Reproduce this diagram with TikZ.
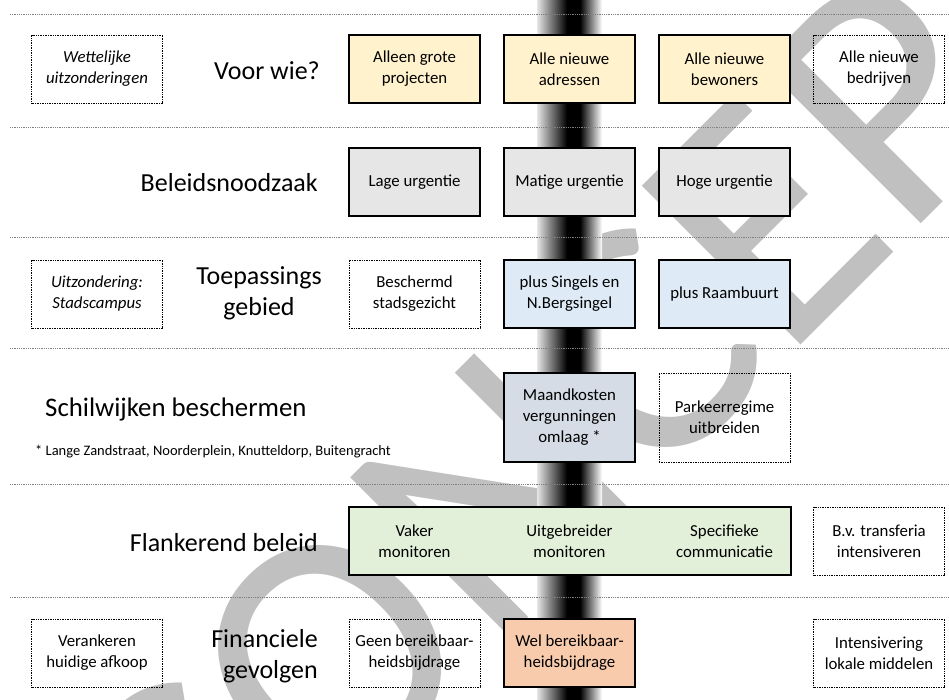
\documentclass[tikz,border=0pt]{standalone}
\usepackage{fontspec}
\setmainfont{Carlito}
\definecolor{yel}{HTML}{FFF2CC}
\definecolor{gry}{HTML}{E6E6E6}
\definecolor{blu}{HTML}{DEEBF7}
\definecolor{slate}{HTML}{D6DCE5}
\definecolor{grn}{HTML}{E2F0D9}
\definecolor{org}{HTML}{F8CBAD}
\definecolor{wm}{HTML}{C0C0C0}
\tikzset{
  boxtext/.style={align=center, font=\fontsize{16.8}{21}\selectfont, inner sep=2pt, minimum width=131pt, minimum height=68pt},
  solidbox/.style={boxtext, draw=black, line width=1.5pt},
  dotbox/.style={boxtext, draw=black, line width=0.7pt, densely dotted},
  biglabel/.style={font=\fontsize{26}{31}\selectfont, inner sep=0pt},
  sepline/.style={draw=gray, line width=0.8pt, densely dotted},
}
\begin{document}
\begin{tikzpicture}[x=1pt,y=-1pt]
\useasboundingbox (0,0) rectangle (949,700);
\fill[white] (0,0) rectangle (949,700);
% watermark
\begin{scope}
\clip (0,0) rectangle (949,700);
\node[rotate=45, text=wm, font=\fontsize{350}{350}\selectfont, inner sep=0pt] (wmark) at (595,392) {CONCEPT};
\end{scope}
% vertical bar
\shade[left color=gray!20, right color=black] (537,0) rectangle (567,700);
\fill[black] (567,0) rectangle (580,700);
\shade[left color=black, right color=white] (580,0) rectangle (602,700);
% separators
\foreach \yy in {14,127,237,348,484,597} {
  \draw[sepline] (10,\yy) -- (949,\yy);
}
% row 1
\node[dotbox, font=\fontsize{16.8}{21}\selectfont\itshape] (r1a) at (97,69) {Wettelijke\\uitzonderingen};
\node[biglabel, anchor=base east] (r1l) at (320,80) {Voor wie?};
\node[solidbox, fill=yel] (r1b) at (414.5,69) {Alleen grote\\projecten};
\node[solidbox, fill=yel] (r1c) at (569.5,69) {Alle nieuwe\\adressen};
\node[solidbox, fill=yel] (r1d) at (724.5,69) {Alle nieuwe\\bewoners};
\node[dotbox] (r1e) at (879,69) {Alle nieuwe\\bedrijven};
% row 2
\node[biglabel, anchor=base east] (r2l) at (318,192) {Beleidsnoodzaak};
\node[solidbox, fill=gry] (r2b) at (414.5,182) {Lage urgentie};
\node[solidbox, fill=gry] (r2c) at (569.5,182) {Matige urgentie};
\node[solidbox, fill=gry] (r2d) at (724.5,182) {Hoge urgentie};
% row 3
\node[dotbox, font=\fontsize{16.8}{21}\selectfont\itshape] (r3a) at (97,294) {Uitzondering:\\Stadscampus};
\node[biglabel, align=center] (r3l) at (259,293) {Toepassings\\gebied};
\node[dotbox] (r3b) at (414.5,294) {Beschermd\\stadsgezicht};
\node[solidbox, fill=blu] (r3c) at (569.5,294) {plus Singels en\\N.Bergsingel};
\node[solidbox, fill=blu] (r3d) at (724.5,294) {plus Raambuurt};
% row 4
\node[biglabel, anchor=base west, font=\fontsize{26.8}{31}\selectfont] (r4l) at (45,416) {Schilwijken beschermen};
\node[inner sep=0pt, anchor=base west, font=\fontsize{14.5}{17}\selectfont] (r4n) at (35,455) {* Lange Zandstraat, Noorderplein, Knutteldorp, Buitengracht};
\node[solidbox, fill=slate, minimum height=89pt] (r4c) at (569.5,417.5) {Maandkosten\\vergunningen\\omlaag *};
\node[dotbox, minimum height=89pt] (r4d) at (724.5,417.5) {Parkeerregime\\uitbreiden};
% row 5
\node[biglabel, anchor=base east] (r5l) at (318,551) {Flankerend beleid};
\node[solidbox, fill=grn, minimum width=442pt] (r5g) at (570,541) {};
\node[boxtext] (r5b) at (414.5,541) {Vaker\\monitoren};
\node[boxtext] (r5c) at (569.5,541) {Uitgebreider\\monitoren};
\node[boxtext] (r5d) at (724.5,541) {Specifieke\\communicatie};
\node[dotbox] (r5e) at (879,541) {B.v. transferia\\intensiveren};
% row 6
\node[dotbox] (r6a) at (97,653) {Verankeren\\huidige afkoop};
\node[biglabel, align=right, anchor=east] (r6l) at (318,656) {Financiele\\gevolgen};
\node[dotbox] (r6b) at (414.5,653) {Geen bereikbaar-\\heidsbijdrage};
\node[solidbox, fill=org] (r6c) at (569.5,653) {Wel bereikbaar-\\heidsbijdrage};
\node[dotbox] (r6e) at (879,653) {Intensivering\\lokale middelen};
\end{tikzpicture}
\end{document}
